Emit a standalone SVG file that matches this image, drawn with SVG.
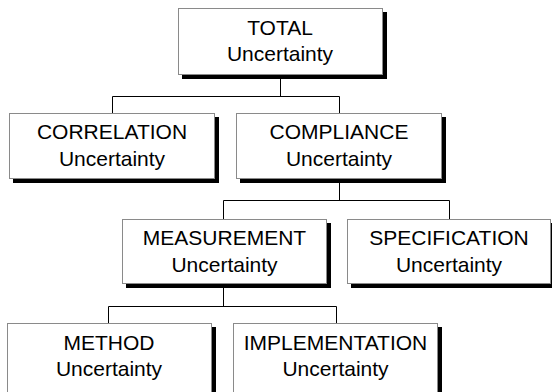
<svg xmlns="http://www.w3.org/2000/svg" width="552" height="392" viewBox="0 0 552 392">
<style>
.shadow{fill:#000}
.box{fill:#fff;stroke:#8a8a8a;stroke-width:1}
.lbl{font-family:"Liberation Sans",Arial,sans-serif;font-size:21px;fill:#000;text-anchor:middle}
.conn{fill:none;stroke:#000;stroke-width:1}
</style>
<rect width="552" height="392" fill="#fff"/>
<g id="connectors" class="conn">
<path d="M280.5 77 V96.5 M112.5 96.5 H339.5 M112.5 96.5 V113 M339.5 96.5 V113"/>
<path d="M339.5 183 V200.5 M223.5 200.5 H449.5 M223.5 200.5 V219 M449.5 200.5 V219"/>
<path d="M223.5 288 V306.5 M108.5 306.5 H336.5 M108.5 306.5 V323 M336.5 306.5 V323"/>
</g>
<g id="total">
<rect class="shadow" x="182" y="12" width="205" height="67"/>
<rect class="box" x="178.5" y="8.5" width="204" height="66"/>
<text class="lbl" x="280" y="35">TOTAL</text>
<text class="lbl" x="280" y="61">Uncertainty</text>
</g>
<g id="correlation">
<rect class="shadow" x="13" y="117" width="206" height="66"/>
<rect class="box" x="9.5" y="113.5" width="205" height="65"/>
<text class="lbl" x="112" y="139">CORRELATION</text>
<text class="lbl" x="112" y="166">Uncertainty</text>
</g>
<g id="compliance">
<rect class="shadow" x="240" y="117" width="206" height="66"/>
<rect class="box" x="236.5" y="113.5" width="205" height="65"/>
<text class="lbl" x="339" y="139">COMPLIANCE</text>
<text class="lbl" x="339" y="166">Uncertainty</text>
</g>
<g id="measurement">
<rect class="shadow" x="126" y="223" width="205" height="65"/>
<rect class="box" x="122.5" y="219.5" width="204" height="64"/>
<text class="lbl" x="224.5" y="245">MEASUREMENT</text>
<text class="lbl" x="224.5" y="272">Uncertainty</text>
</g>
<g id="specification">
<rect class="shadow" x="351" y="223" width="205" height="65"/>
<rect class="box" x="347.5" y="219.5" width="203" height="64"/>
<text class="lbl" x="449" y="245">SPECIFICATION</text>
<text class="lbl" x="449" y="272">Uncertainty</text>
</g>
<g id="method">
<rect class="shadow" x="11" y="327" width="205" height="70"/>
<rect class="box" x="7.5" y="323.5" width="204" height="72"/>
<text class="lbl" x="109" y="350">METHOD</text>
<text class="lbl" x="109" y="376">Uncertainty</text>
</g>
<g id="implementation">
<rect class="shadow" x="237" y="327" width="205" height="70"/>
<rect class="box" x="233.5" y="323.5" width="204" height="72"/>
<text class="lbl" x="335.5" y="350">IMPLEMENTATION</text>
<text class="lbl" x="335.5" y="376">Uncertainty</text>
</g>
</svg>
